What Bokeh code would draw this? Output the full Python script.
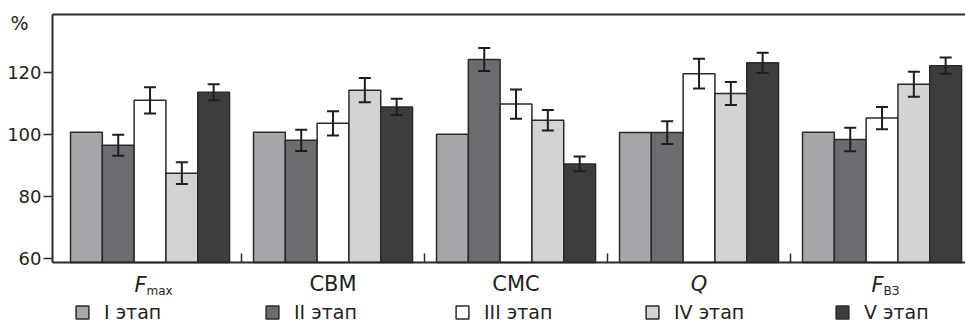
from bokeh.plotting import figure
from bokeh.models import (ColumnDataSource, Range1d, FixedTicker, LinearAxis, Whisker, TeeHead,
                          LabelSet, Label, Legend, LegendItem)
from bokeh.core.properties import value
from bokeh.embed import file_html
from bokeh.resources import INLINE

# ---- data ----
stages = ["I этап", "II этап", "III этап", "IV этап", "V этап"]
cat_main = ["F", "СВМ", "СМС", "Q", "F"]
cat_sub = ["max", "", "", "", "ВЗ"]
cat_style = ["italic", "normal", "normal", "italic", "italic"]

stage1 = [100.6, 100.6, 100.0, 100.5, 100.6]
stage2 = [96.4, 98.0, 124.1, 100.5, 98.3]
stage3 = [110.9, 103.5, 109.7, 119.5, 105.2]
stage4 = [87.4, 114.2, 104.5, 113.1, 116.1]
stage5 = [113.5, 108.8, 90.4, 123.0, 122.1]
err1 = [0, 0, 0, 0, 0]
err2 = [3.4, 3.4, 3.7, 3.7, 3.8]
err3 = [4.2, 3.9, 4.7, 4.8, 3.6]
err4 = [3.5, 3.9, 3.3, 3.7, 4.0]
err5 = [2.6, 2.6, 2.4, 3.3, 2.6]
y_ticks = [60, 80, 100, 120]

values = [stage1, stage2, stage3, stage4, stage5]
errors = [err1, err2, err3, err4, err5]
colors = ["#a6a7aa", "#6b6c70", "#ffffff", "#d2d3d5", "#3d3d3f"]
edge = "#2a2a2a"
txt = "#231f20"
FONT = "DejaVu Sans"

W, H = 965, 324
LEFT, TOP, BOTTOM = 52, 14, 262          # plotting area in pixels
PXX, PXY = 183.0, 3.1                    # pixels per data unit
XA = -0.533                              # data x at the left axis
Y0, Y1 = 58.6, 58.6 + (BOTTOM - TOP) / PXY
x_lo = XA - LEFT / PXX
x_hi = x_lo + W / PXX
y_lo = Y0 - (H - BOTTOM) / PXY
y_hi = Y0 + BOTTOM / PXY

p = figure(width=W, height=H, output_backend="svg", toolbar_location=None,
           x_range=Range1d(x_lo, x_hi), y_range=Range1d(y_lo, y_hi),
           min_border=0, min_border_left=0, min_border_right=0, min_border_top=0,
           min_border_bottom=0, x_axis_type=None, y_axis_type=None)
p.grid.visible = False
p.outline_line_color = None
p.background_fill_color = "white"
p.border_fill_color = "white"

# axes (fixed inside the canvas)
yax = LinearAxis(fixed_location=XA, bounds=(Y0, Y1), ticker=FixedTicker(ticks=y_ticks),
                 axis_line_width=2, axis_line_color=edge,
                 major_tick_in=0, major_tick_out=9, major_tick_line_width=1.5,
                 major_tick_line_color=edge, minor_tick_line_color=None, major_label_standoff=2,
                 major_label_text_font=FONT, major_label_text_font_size="18px",
                 major_label_text_color=txt)
p.add_layout(yax, "left")

n = len(cat_main)
xax = LinearAxis(fixed_location=Y0, bounds=(XA, x_hi), ticker=FixedTicker(ticks=[i + 0.5 for i in range(n - 1)]),
                 axis_line_width=2, axis_line_color=edge, major_tick_in=9, major_tick_out=0,
                 major_tick_line_width=1.5, major_tick_line_color=edge, minor_tick_line_color=None,
                 major_label_text_font_size="0px", major_label_text_alpha=0)
p.add_layout(xax, "below")

top = LinearAxis(fixed_location=Y1, bounds=(XA, x_hi), ticker=FixedTicker(ticks=[]),
                 axis_line_width=2, axis_line_color=edge,
                 major_tick_line_color=None, minor_tick_line_color=None,
                 major_label_text_font_size="0px")
p.add_layout(top, "above")

# bars
bw = 0.1738
x_idx = list(range(n))
renderers = []
for j, (vals, errs) in enumerate(zip(values, errors)):
    xs = [i + (j - 2) * bw for i in x_idx]
    src = ColumnDataSource(dict(x=xs, top=vals, up=[v + e for v, e in zip(vals, errs)],
                                lo=[v - e for v, e in zip(vals, errs)]))
    r = p.vbar(x="x", top="top", bottom=Y0, width=bw, source=src, fill_color=colors[j],
               line_color=edge, line_width=1.5)
    renderers.append(r)
    if j > 0:
        w = Whisker(source=src, base="x", upper="up", lower="lo", dimension="height",
                    level="annotation", line_color="#1e1e1e", line_width=2,
                    upper_head=TeeHead(size=12, line_color="#1e1e1e", line_width=2),
                    lower_head=TeeHead(size=12, line_color="#1e1e1e", line_width=2))
        p.add_layout(w)

# category labels (screen y measured from the canvas bottom)
LAB_Y = H - 290
plain = [i for i in x_idx if cat_sub[i] == ""]
subbed = [i for i in x_idx if cat_sub[i] != ""]
src_plain = ColumnDataSource(dict(x=plain, text=[cat_main[i] for i in plain],
                                  style=[cat_style[i] for i in plain]))
p.add_layout(LabelSet(source=src_plain, x="x", y=LAB_Y, y_units="screen", text="text",
                      text_font_style="style", text_align="center", text_baseline="alphabetic",
                      text_font=value(FONT), text_font_size=value("21px"), text_color=txt))
offs = [(15 - 10 * len(cat_sub[i])) / 2 + 4 for i in subbed]
src_sub = ColumnDataSource(dict(x=subbed, main=[cat_main[i] for i in subbed],
                                sub=[cat_sub[i] for i in subbed],
                                style=[cat_style[i] for i in subbed], off=offs))
p.add_layout(LabelSet(source=src_sub, x="x", y=LAB_Y - 1, y_units="screen", text="main",
                      x_offset="off", text_font_style="style", text_align="right",
                      text_baseline="alphabetic", text_font=value(FONT),
                      text_font_size=value("21px"), text_color=txt))
p.add_layout(LabelSet(source=src_sub, x="x", y=LAB_Y - 4, y_units="screen", text="sub",
                      x_offset="off", text_align="left", text_baseline="alphabetic",
                      text_font=value(FONT), text_font_size=value("12px"), text_color=txt))

# percent label
p.add_layout(Label(x=10, y=H - 22, x_units="screen", y_units="screen", text="%",
                   text_font=FONT, text_font_size="19px", text_color=txt,
                   text_baseline="middle", text_align="left"))

# legend
legend = Legend(items=[LegendItem(label=s, renderers=[r]) for s, r in zip(stages, renderers)],
                orientation="horizontal", location=(74, 1), glyph_width=16, glyph_height=16,
                label_standoff=14, label_width=159, spacing=1, padding=0, margin=0,
                border_line_color=None, background_fill_alpha=0,
                label_text_font=FONT, label_text_font_size="19px", label_text_color=txt)
p.add_layout(legend)

open("out.html", "w").write(file_html(p, INLINE))
